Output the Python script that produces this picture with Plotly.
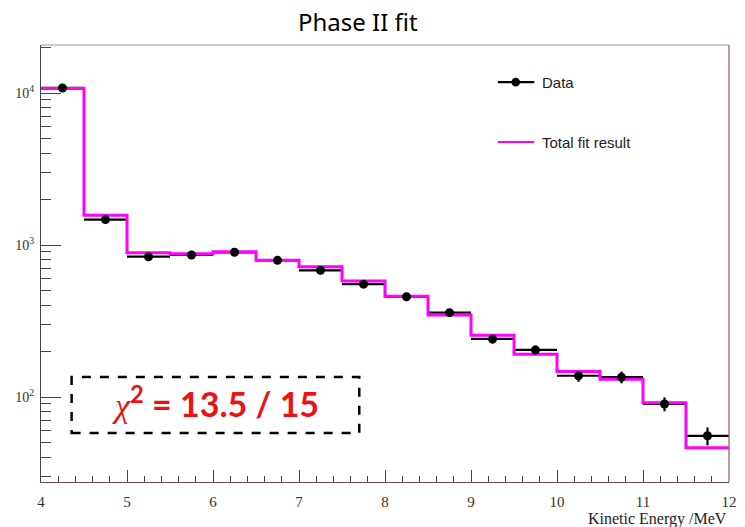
import plotly.graph_objects as go

# Kinetic-energy bins (MeV), 0.5 MeV wide
bin_centers = [4.25, 4.75, 5.25, 5.75, 6.25, 6.75, 7.25, 7.75,
               8.25, 8.75, 9.25, 9.75, 10.25, 10.75, 11.25, 11.75]
bin_half_width = 0.25

# Measured counts per bin and their uncertainties
data_counts = [10800, 1470, 838, 860, 896, 793, 682, 553,
               457, 359, 241, 204, 138, 135, 90, 55.6]
data_errors = [104, 38, 29, 29, 30, 28, 26, 24,
               21, 19, 16, 14, 12, 12, 9.5, 7.5]

# Total fit result per bin
fit_counts = [10700, 1570, 889, 875, 903, 795, 720, 580,
              460, 346, 255, 191, 147, 131, 91.8, 46.4]

# Histogram step outline of the fit: left edges plus the final right edge
fit_edges = [c - bin_half_width for c in bin_centers] + [bin_centers[-1] + bin_half_width]
fit_steps = fit_counts + [fit_counts[-1]]

MAGENTA = "#ff00ff"
AXIS = "#444444"
SERIF = "Liberation Serif"
SANS = "Liberation Sans, Arial, sans-serif"

fig = go.Figure()

# Data error bars (drawn underneath the fit line)
fig.add_trace(go.Scatter(
    x=bin_centers, y=data_counts, mode="markers",
    marker=dict(size=1, color="rgba(0,0,0,0)"),
    error_x=dict(type="constant", value=bin_half_width, thickness=2.2, width=0, color="black"),
    error_y=dict(type="data", array=data_errors, thickness=2.2, width=0, color="black"),
    showlegend=False, hoverinfo="skip",
))

# Total fit histogram
fig.add_trace(go.Scatter(
    x=fit_edges, y=fit_steps, mode="lines", line_shape="hv",
    line=dict(color=MAGENTA, width=3), showlegend=False,
))

# Data points on top
fig.add_trace(go.Scatter(
    x=bin_centers, y=data_counts, mode="markers",
    marker=dict(size=9, color="black"), showlegend=False,
))

# Minor log ticks drawn on a companion y axis
minor_vals = []
for decade in (10, 100, 1000, 10000):
    for m in range(2, 10):
        v = m * decade
        if 20 <= v <= 20000:
            minor_vals.append(v)
fig.add_trace(go.Scatter(x=[4], y=[1000], yaxis="y2", mode="markers",
                         marker=dict(size=1, color="rgba(0,0,0,0)"),
                         showlegend=False, hoverinfo="skip"))

y_range = [1.441, 4.316]

fig.update_layout(
    width=745, height=527,
    margin=dict(l=41, r=8, t=45, b=45),
    paper_bgcolor="white", plot_bgcolor="white",
    xaxis=dict(
        range=[4, 12], dtick=1, tick0=4,
        ticks="inside", ticklen=12, tickwidth=1, tickcolor=AXIS,
        minor=dict(dtick=0.2, tick0=4, ticks="inside", ticklen=6, tickcolor=AXIS, tickwidth=1),
        showgrid=False, zeroline=False,
        showline=True, linecolor="#6b4a4a", linewidth=1.2, mirror=False,
        ticklabelstandoff=6,
        tickfont=dict(family=SERIF, size=15, color="#333333"),
    ),
    yaxis=dict(
        type="log", range=y_range,
        tickvals=[100, 1000, 10000],
        ticktext=["10<sup>2</sup>", "10<sup>3</sup>", "10<sup>4</sup>"],
        ticks="inside", ticklen=20, tickwidth=1, tickcolor=AXIS,
        showgrid=False, zeroline=False,
        showline=True, linecolor=AXIS, linewidth=1.2,
        ticklabelstandoff=3,
        tickfont=dict(family=SERIF, size=14, color="#333333"),
    ),
    yaxis2=dict(
        type="log", range=y_range, overlaying="y", side="left",
        tickvals=minor_vals, ticks="inside", ticklen=10, tickwidth=1, tickcolor=AXIS,
        showticklabels=False, showgrid=False, zeroline=False, showline=False,
    ),
    showlegend=False,
)

# Top and right frame edges
fig.add_shape(type="line", xref="paper", yref="paper", x0=0, x1=1, y0=1, y1=1,
              line=dict(color="#999999", width=1.2))
fig.add_shape(type="line", xref="paper", yref="paper", x0=1, x1=1, y0=0, y1=1,
              line=dict(color="#8a5a5a", width=1.2))

# Legend
fig.add_shape(type="line", xref="paper", yref="paper", x0=0.664, x1=0.717, y0=0.915, y1=0.915,
              line=dict(color="black", width=2.2))
fig.add_shape(type="circle", xref="paper", yref="paper",
              x0=0.690 - 0.0062, x1=0.690 + 0.0062, y0=0.915 - 0.0099, y1=0.915 + 0.0099,
              fillcolor="black", line=dict(color="black", width=0))
fig.add_annotation(xref="paper", yref="paper", x=0.7256, y=0.915, text="Data",
                   showarrow=False, xanchor="left", yanchor="middle",
                   font=dict(family=SANS, size=15, color="#222222"))
fig.add_shape(type="line", xref="paper", yref="paper", x0=0.664, x1=0.717, y0=0.778, y1=0.778,
              line=dict(color=MAGENTA, width=2.2))
fig.add_annotation(xref="paper", yref="paper", x=0.7256, y=0.778, text="Total fit result",
                   showarrow=False, xanchor="left", yanchor="middle",
                   font=dict(family=SANS, size=15, color="#222222"))

# Chi-square box
fig.add_shape(type="rect", xref="paper", yref="paper", x0=0.0445, x1=0.4626, y0=0.112, y1=0.240,
              line=dict(color="black", width=2.5, dash="dash"), fillcolor="white")
fig.add_annotation(
    xref="paper", yref="paper", x=0.253, y=0.182, showarrow=False,
    xanchor="center", yanchor="middle",
    text='<span style="font-family:serif;font-style:italic;font-weight:normal">χ</span>'
         '<sup>2</sup> = 13.5 / 15',
    font=dict(family="Lato, Open Sans, sans-serif", size=34, color="#ee1111", weight="bold"),
)

# Title
fig.add_annotation(xref="paper", yref="paper", x=0.461, y=1.053, text="Phase II fit",
                   showarrow=False, xanchor="center", yanchor="middle",
                   font=dict(family="Comic Sans MS, Noto Sans, sans-serif", size=24, color="black"))

# X axis title
fig.add_annotation(xref="paper", yref="paper", x=1.0, y=-0.085, text="Kinetic Energy /MeV",
                   showarrow=False, xanchor="right", yanchor="middle",
                   font=dict(family=SERIF, size=16, color="#222222"))

fig.write_html("out.html")
